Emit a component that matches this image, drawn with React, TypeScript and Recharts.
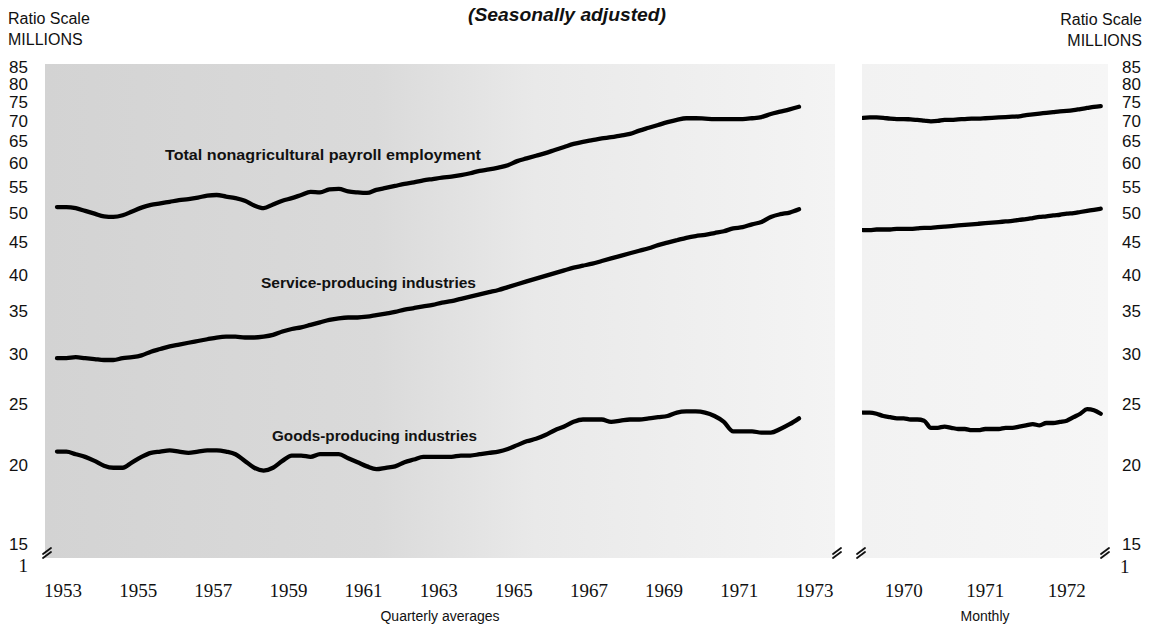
import React from 'react';
import { LineChart, Line, XAxis, YAxis, CartesianGrid, Label } from 'recharts';

// ---------- DATA ----------
const quarterYears = [1953, 1954, 1955, 1956, 1957, 1958, 1959, 1960, 1961, 1962, 1963, 1964, 1965, 1966, 1967, 1968, 1969, 1970, 1971, 1972];

// Millions, quarterly averages (Q1..Q4 of each year)
const quarterlyTotal = [
  51.1, 51.1, 50.9, 50.4, 49.9, 49.4, 49.3, 49.6, 50.3, 51.0,
  51.5, 51.8, 52.1, 52.4, 52.6, 52.9, 53.3, 53.4, 53.1, 52.8,
  52.3, 51.4, 50.9, 51.6, 52.3, 52.8, 53.4, 54.0, 53.9, 54.5,
  54.6, 54.1, 53.9, 53.8, 54.4, 54.8, 55.2, 55.6, 55.9, 56.3,
  56.6, 56.9, 57.1, 57.4, 57.8, 58.3, 58.6, 59.0, 59.5, 60.4,
  61.0, 61.6, 62.2, 62.9, 63.6, 64.3, 64.8, 65.2, 65.6, 65.9,
  66.3, 66.7, 67.5, 68.2, 68.9, 69.6, 70.2, 70.6, 70.6, 70.5,
  70.4, 70.4, 70.4, 70.4, 70.6, 70.9, 71.7, 72.3, 72.9, 73.6,
];
const quarterlyService = [
  29.5, 29.5, 29.6, 29.5, 29.4, 29.3, 29.3, 29.5, 29.6, 29.8,
  30.2, 30.5, 30.8, 31.0, 31.2, 31.4, 31.6, 31.8, 31.9, 31.9,
  31.8, 31.8, 31.9, 32.1, 32.5, 32.8, 33.0, 33.3, 33.6, 33.9,
  34.1, 34.2, 34.2, 34.3, 34.5, 34.7, 34.9, 35.2, 35.4, 35.6,
  35.8, 36.1, 36.3, 36.6, 36.9, 37.2, 37.5, 37.8, 38.2, 38.6,
  39.0, 39.4, 39.8, 40.2, 40.6, 41.0, 41.3, 41.6, 42.0, 42.4,
  42.8, 43.2, 43.6, 44.0, 44.5, 44.9, 45.3, 45.7, 46.0, 46.2,
  46.5, 46.8, 47.3, 47.5, 48.0, 48.4, 49.3, 49.8, 50.1, 50.7,
];
const quarterlyGoods = [
  21.0, 21.0, 20.8, 20.6, 20.3, 19.95, 19.8, 19.8, 20.2, 20.6,
  20.9, 21.0, 21.1, 21.0, 20.9, 21.0, 21.1, 21.1, 21.0, 20.8,
  20.3, 19.8, 19.6, 19.8, 20.3, 20.7, 20.7, 20.6, 20.8, 20.8,
  20.8, 20.5, 20.2, 19.9, 19.7, 19.8, 19.9, 20.2, 20.4, 20.6,
  20.6, 20.6, 20.6, 20.7, 20.7, 20.8, 20.9, 21.0, 21.2, 21.5,
  21.8, 22.0, 22.3, 22.7, 23.0, 23.4, 23.6, 23.6, 23.6, 23.4,
  23.5, 23.6, 23.6, 23.7, 23.8, 23.9, 24.2, 24.3, 24.3, 24.2,
  23.9, 23.4, 22.6, 22.6, 22.6, 22.5, 22.5, 22.8, 23.2, 23.7,
];

const monthYears = [1970, 1971, 1972];
// Millions, monthly (Jan..Dec of each year)
const monthlyTotal = [
  70.7, 70.8, 70.8, 70.7, 70.5, 70.4, 70.4, 70.3, 70.2, 70.0, 69.8, 69.9,
  70.2, 70.2, 70.3, 70.4, 70.5, 70.5, 70.6, 70.7, 70.8, 70.9, 71.0, 71.1,
  71.4, 71.6, 71.8, 72.0, 72.2, 72.4, 72.5, 72.7, 73.0, 73.3, 73.6, 73.8,
];
const monthlyService = [
  47.0, 47.0, 47.1, 47.1, 47.1, 47.2, 47.2, 47.2, 47.3, 47.4, 47.4, 47.5,
  47.6, 47.7, 47.8, 47.9, 48.0, 48.1, 48.2, 48.3, 48.4, 48.5, 48.6, 48.8,
  48.9, 49.1, 49.3, 49.4, 49.6, 49.7, 49.9, 50.0, 50.2, 50.4, 50.6, 50.8,
];
const monthlyGoods = [
  24.2, 24.2, 24.1, 23.9, 23.8, 23.7, 23.7, 23.6, 23.6, 23.5, 22.9, 22.9,
  23.0, 22.9, 22.8, 22.8, 22.7, 22.7, 22.8, 22.8, 22.8, 22.9, 22.9, 23.0,
  23.1, 23.2, 23.1, 23.3, 23.3, 23.4, 23.5, 23.8, 24.1, 24.5, 24.4, 24.1,
];

const yTicks = [15, 20, 25, 30, 35, 40, 45, 50, 55, 60, 65, 70, 75, 80, 85];
const quarterlyTickYears = [1953, 1955, 1957, 1959, 1961, 1963, 1965, 1967, 1969, 1971, 1973];
const monthlyTickLabels = ['1970', '1971', '1972'];

const seriesLabels = {
  total: 'Total nonagricultural payroll employment',
  service: 'Service-producing industries',
  goods: 'Goods-producing industries',
};

// ---------- derived tables ----------
const quarterlyData = quarterlyTotal.map((v, i) => ({
  t: quarterYears[Math.floor(i / 4)] + (i % 4) / 4,
  total: v,
  service: quarterlyService[i],
  goods: quarterlyGoods[i],
}));
const monthlyData = monthlyTotal.map((v, i) => ({
  t: monthYears[Math.floor(i / 12)] + (i % 12) / 12,
  total: v,
  service: monthlyService[i],
  goods: monthlyGoods[i],
}));
const monthlyTickPositions = monthlyTickLabels.map((s) => Number(s) + 0.5);

const Y_DOMAIN: [number, number] = [14.26, 86];
const SANS = '"Liberation Sans", Arial, Helvetica, sans-serif';
const SERIF = '"Liberation Serif", "Times New Roman", serif';
const INK = '#111';

const LeftYTick = (props: any) => {
  const { x, y, payload } = props;
  return (
    <g>
      <text x={x - 17} y={y} dy="0.36em" textAnchor="end" fontFamily={SANS} fontSize={17} fill={INK}>
        {payload.value}
      </text>
      {payload.value === 15 && (
        <text x={x - 17} y={y + 28} textAnchor="end" fontFamily={SERIF} fontSize={19} fill={INK}>1</text>
      )}
    </g>
  );
};

const RightYTick = (props: any) => {
  const { x, y, payload } = props;
  return (
    <g>
      <text x={x + 33} y={y} dy="0.36em" textAnchor="end" fontFamily={SANS} fontSize={17} fill={INK}>
        {payload.value}
      </text>
      {payload.value === 15 && (
        <text x={x + 12} y={y + 29} textAnchor="start" fontFamily={SERIF} fontSize={19} fill={INK}>1</text>
      )}
    </g>
  );
};

const YearTick = (props: any) => {
  const { x, y, payload, shift } = props;
  return (
    <text x={x + (shift || 0)} y={y + 39} textAnchor="middle" fontFamily={SERIF} fontSize={19} fill={INK}>
      {Math.floor(payload.value)}
    </text>
  );
};

const BreakMark = ({ cx, cy }: { cx: number; cy: number }) => (
  <g stroke={INK} strokeWidth={1.8} fill="none" strokeLinecap="round">
    <path d={`M${cx - 4},${cy + 1} L${cx + 4},${cy - 5}`} />
    <path d={`M${cx - 4},${cy + 5} L${cx + 4},${cy - 1}`} />
  </g>
);

const lineProps = {
  stroke: '#000',
  strokeWidth: 4.3,
  dot: false,
  isAnimationActive: false,
  type: 'monotone' as const,
  strokeLinejoin: 'round' as const,
  strokeLinecap: 'round' as const,
};

export default function App() {
  return (
    <div style={{ position: 'absolute', left: 0, top: 0, width: 1154, height: 628, background: '#fff', overflow: 'hidden' }}>
      <div style={{ position: 'absolute', left: 0, top: 0 }}>
        <LineChart width={850} height={628} data={quarterlyData} margin={{ top: 64, right: 15, bottom: 0, left: 0 }}>
          <defs>
            <linearGradient id="bgQuarterly" x1="0" y1="0" x2="1" y2="0">
              <stop offset="0%" stopColor="#d3d3d3" />
              <stop offset="42%" stopColor="#dadada" />
              <stop offset="62%" stopColor="#e9e9e9" />
              <stop offset="100%" stopColor="#f4f4f4" />
            </linearGradient>
          </defs>
          <CartesianGrid horizontal={false} vertical={false} fill="url(#bgQuarterly)" stroke="none" />
          <XAxis
            type="number"
            dataKey="t"
            domain={[1952.681, 1973.708]}
            allowDataOverflow
            ticks={quarterlyTickYears}
            interval={0}
            axisLine={false}
            tickLine={false}
            tickSize={0}
            tickMargin={0}
            height={70}
            tick={(p: any) => <YearTick {...p} shift={6} />}
          >
            <Label value="Quarterly averages" position="insideBottom" offset={7} fontFamily={SANS} fontSize={14} fill={INK} />
          </XAxis>
          <YAxis
            scale="log"
            type="number"
            domain={Y_DOMAIN}
            allowDataOverflow
            ticks={yTicks}
            interval={0}
            axisLine={false}
            tickLine={false}
            tickSize={0}
            tickMargin={0}
            width={45}
            tick={(p: any) => <LeftYTick {...p} />}
          />
          <Line dataKey="total" {...lineProps} />
          <Line dataKey="service" {...lineProps} />
          <Line dataKey="goods" {...lineProps} />
        </LineChart>
      </div>

      <div style={{ position: 'absolute', left: 850, top: 0 }}>
        <LineChart width={304} height={628} data={monthlyData} margin={{ top: 64, right: 0, bottom: 0, left: 12 }}>
          <defs>
            <linearGradient id="bgMonthly" x1="0" y1="0" x2="1" y2="0">
              <stop offset="0%" stopColor="#f2f2f2" />
              <stop offset="100%" stopColor="#f6f6f6" />
            </linearGradient>
          </defs>
          <CartesianGrid horizontal={false} vertical={false} fill="url(#bgMonthly)" stroke="none" />
          <XAxis
            type="number"
            dataKey="t"
            domain={[1969.988, 1973.006]}
            allowDataOverflow
            ticks={monthlyTickPositions}
            interval={0}
            axisLine={false}
            tickLine={false}
            tickSize={0}
            tickMargin={0}
            height={70}
            tick={(p: any) => <YearTick {...p} shift={0} />}
          >
            <Label value="Monthly" position="insideBottom" offset={7} fontFamily={SANS} fontSize={14} fill={INK} />
          </XAxis>
          <YAxis
            orientation="right"
            scale="log"
            type="number"
            domain={Y_DOMAIN}
            allowDataOverflow
            ticks={yTicks}
            interval={0}
            axisLine={false}
            tickLine={false}
            tickSize={0}
            tickMargin={0}
            width={46}
            tick={(p: any) => <RightYTick {...p} />}
          />
          <Line dataKey="total" {...lineProps} />
          <Line dataKey="service" {...lineProps} />
          <Line dataKey="goods" {...lineProps} />
        </LineChart>
      </div>

      <svg width={1154} height={628} style={{ position: 'absolute', left: 0, top: 0, pointerEvents: 'none' }}>
        <text x={8} y={24} fontFamily={SANS} fontSize={16} fill={INK}>Ratio Scale</text>
        <text x={8} y={45} fontFamily={SANS} fontSize={16} fill={INK}>MILLIONS</text>
        <text x={1142} y={25} textAnchor="end" fontFamily={SANS} fontSize={16} fill={INK}>Ratio Scale</text>
        <text x={1142} y={46} textAnchor="end" fontFamily={SANS} fontSize={16} fill={INK}>MILLIONS</text>
        <text x={468} y={21} fontFamily={SANS} fontSize={18} fontWeight="bold" fontStyle="italic" fill={INK}
          textLength={198} lengthAdjust="spacingAndGlyphs">(Seasonally adjusted)</text>

        <text x={165} y={160} fontFamily={SANS} fontSize={15} fontWeight="bold" fill={INK}
          textLength={316} lengthAdjust="spacingAndGlyphs">{seriesLabels.total}</text>
        <text x={261} y={288} fontFamily={SANS} fontSize={15} fontWeight="bold" fill={INK}
          textLength={215} lengthAdjust="spacingAndGlyphs">{seriesLabels.service}</text>
        <text x={272} y={441} fontFamily={SANS} fontSize={15} fontWeight="bold" fill={INK}
          textLength={205} lengthAdjust="spacingAndGlyphs">{seriesLabels.goods}</text>

        <BreakMark cx={47} cy={553} />
        <BreakMark cx={837} cy={553} />
        <BreakMark cx={861} cy={553} />
        <BreakMark cx={1105} cy={553} />
      </svg>
    </div>
  );
}
